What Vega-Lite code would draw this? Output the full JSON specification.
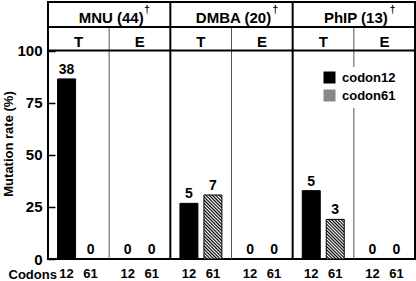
{
  "$schema": "https://vega.github.io/schema/vega-lite/v6.json",
  "width": 367,
  "height": 257,
  "autosize": {"type": "none"},
  "padding": {"left": 48, "top": 2, "right": 1, "bottom": 22},
  "config": {
    "font": "Liberation Sans",
    "view": {"stroke": "black", "strokeWidth": 2},
    "text": {"font": "Liberation Sans", "fontWeight": "bold", "color": "black"}
  },
  "datasets": {
    "bars": [
      {"key": "MNU|T", "codon": "12", "rate": 86.4, "n": 38},
      {"key": "MNU|T", "codon": "61", "rate": 0, "n": 0},
      {"key": "MNU|E", "codon": "12", "rate": 0, "n": 0},
      {"key": "MNU|E", "codon": "61", "rate": 0, "n": 0},
      {"key": "DMBA|T", "codon": "12", "rate": 26.7, "n": 5},
      {"key": "DMBA|T", "codon": "61", "rate": 30.7, "n": 7},
      {"key": "DMBA|E", "codon": "12", "rate": 0, "n": 0},
      {"key": "DMBA|E", "codon": "61", "rate": 0, "n": 0},
      {"key": "PhIP|T", "codon": "12", "rate": 32.8, "n": 5},
      {"key": "PhIP|T", "codon": "61", "rate": 19.0, "n": 3},
      {"key": "PhIP|E", "codon": "12", "rate": 0, "n": 0},
      {"key": "PhIP|E", "codon": "61", "rate": 0, "n": 0}
    ],
    "groups": [
      {"key": "MNU|T", "label": "MNU (44)"},
      {"key": "DMBA|T", "label": "DMBA (20)"},
      {"key": "PhIP|T", "label": "PhIP (13)"}
    ],
    "subs": [
      {"key": "MNU|T", "label": "T"},
      {"key": "MNU|E", "label": "E"},
      {"key": "DMBA|T", "label": "T"},
      {"key": "DMBA|E", "label": "E"},
      {"key": "PhIP|T", "label": "T"},
      {"key": "PhIP|E", "label": "E"}
    ],
    "groupStarts": [{"key": "DMBA|T"}, {"key": "PhIP|T"}],
    "subStarts": [{"key": "MNU|E"}, {"key": "DMBA|E"}, {"key": "PhIP|E"}],
    "hlines": [{"level": 100}, {"level": 111.3}]
  },
  "layer": [
    {
      "data": {"name": "bars"},
      "mark": {"type": "bar", "stroke": "black", "strokeWidth": 1},
      "encoding": {
        "x": {
          "field": "key", "type": "nominal",
          "scale": {"domain": ["MNU|T", "MNU|E", "DMBA|T", "DMBA|E", "PhIP|T", "PhIP|E"], "paddingInner": 0, "paddingOuter": 0},
          "axis": {"labels": false, "ticks": false, "domain": false, "grid": false, "title": "Codons", "titleX": -40, "titleY": 19, "titleAlign": "left", "titleAnchor": null, "titleBaseline": "alphabetic", "titleFont": "Liberation Sans", "titleFontSize": 13, "titleFontWeight": "bold", "titleColor": "black"}
        },
        "xOffset": {"field": "codon", "type": "nominal", "scale": {"domain": ["12", "61"], "paddingInner": 0.25, "paddingOuter": 0.4}},
        "y": {
          "field": "rate", "type": "quantitative",
          "scale": {"domain": [0, 123.3], "nice": false, "zero": true},
          "axis": {"values": [0, 25, 50, 75, 100], "domain": false, "grid": false, "tickSize": -7, "tickWidth": 1.5, "tickColor": "black", "labelPadding": 13, "labelFont": "Liberation Sans", "labelFontSize": 15, "labelFontWeight": "bold", "labelColor": "black", "title": "Mutation rate (%)", "titleFont": "Liberation Sans", "titleFontSize": 13, "titleFontWeight": "bold", "titleColor": "black", "titleAngle": -90, "titleX": -36, "titleY": 141.5, "titleAlign": "center", "titleBaseline": "alphabetic"}
        },
        "fill": {
          "field": "codon", "type": "nominal",
          "scale": {"domain": ["12", "61"], "range": ["#000000", "#888888"]},
          "condition": [
            {"test": "datum.key === 'DMBA|T' && datum.codon === '61'", "value": {"gradient": "linear", "x1": 0, "y1": 1, "x2": 0.334, "y2": -0.188, "stops": [
              {"offset": 0, "color": "#000"}, {"offset": 0.02, "color": "#fff"}, {"offset": 0.04, "color": "#000"}, {"offset": 0.06, "color": "#fff"}, {"offset": 0.08, "color": "#000"}, {"offset": 0.1, "color": "#fff"}, {"offset": 0.12, "color": "#000"}, {"offset": 0.14, "color": "#fff"}, {"offset": 0.16, "color": "#000"}, {"offset": 0.18, "color": "#fff"}, {"offset": 0.2, "color": "#000"}, {"offset": 0.22, "color": "#fff"}, {"offset": 0.24, "color": "#000"}, {"offset": 0.26, "color": "#fff"}, {"offset": 0.28, "color": "#000"}, {"offset": 0.3, "color": "#fff"}, {"offset": 0.32, "color": "#000"}, {"offset": 0.34, "color": "#fff"}, {"offset": 0.36, "color": "#000"}, {"offset": 0.38, "color": "#fff"}, {"offset": 0.4, "color": "#000"}, {"offset": 0.42, "color": "#fff"}, {"offset": 0.44, "color": "#000"}, {"offset": 0.46, "color": "#fff"}, {"offset": 0.48, "color": "#000"}, {"offset": 0.5, "color": "#fff"}, {"offset": 0.52, "color": "#000"}, {"offset": 0.54, "color": "#fff"}, {"offset": 0.56, "color": "#000"}, {"offset": 0.58, "color": "#fff"}, {"offset": 0.6, "color": "#000"}, {"offset": 0.62, "color": "#fff"}, {"offset": 0.64, "color": "#000"}, {"offset": 0.66, "color": "#fff"}, {"offset": 0.68, "color": "#000"}, {"offset": 0.7, "color": "#fff"}, {"offset": 0.72, "color": "#000"}, {"offset": 0.74, "color": "#fff"}, {"offset": 0.76, "color": "#000"}, {"offset": 0.78, "color": "#fff"}, {"offset": 0.8, "color": "#000"}, {"offset": 0.82, "color": "#fff"}, {"offset": 0.84, "color": "#000"}, {"offset": 0.86, "color": "#fff"}, {"offset": 0.88, "color": "#000"}, {"offset": 0.9, "color": "#fff"}, {"offset": 0.92, "color": "#000"}, {"offset": 0.94, "color": "#fff"}, {"offset": 0.96, "color": "#000"}, {"offset": 0.98, "color": "#fff"}, {"offset": 1, "color": "#000"}
            ]}},
            {"test": "datum.key === 'PhIP|T' && datum.codon === '61'", "value": {"gradient": "linear", "x1": 0, "y1": 1, "x2": 0.548, "y2": -0.205, "stops": [
              {"offset": 0, "color": "#000"}, {"offset": 0.0278, "color": "#fff"}, {"offset": 0.0556, "color": "#000"}, {"offset": 0.0833, "color": "#fff"}, {"offset": 0.1111, "color": "#000"}, {"offset": 0.1389, "color": "#fff"}, {"offset": 0.1667, "color": "#000"}, {"offset": 0.1944, "color": "#fff"}, {"offset": 0.2222, "color": "#000"}, {"offset": 0.25, "color": "#fff"}, {"offset": 0.2778, "color": "#000"}, {"offset": 0.3056, "color": "#fff"}, {"offset": 0.3333, "color": "#000"}, {"offset": 0.3611, "color": "#fff"}, {"offset": 0.3889, "color": "#000"}, {"offset": 0.4167, "color": "#fff"}, {"offset": 0.4444, "color": "#000"}, {"offset": 0.4722, "color": "#fff"}, {"offset": 0.5, "color": "#000"}, {"offset": 0.5278, "color": "#fff"}, {"offset": 0.5556, "color": "#000"}, {"offset": 0.5833, "color": "#fff"}, {"offset": 0.6111, "color": "#000"}, {"offset": 0.6389, "color": "#fff"}, {"offset": 0.6667, "color": "#000"}, {"offset": 0.6944, "color": "#fff"}, {"offset": 0.7222, "color": "#000"}, {"offset": 0.75, "color": "#fff"}, {"offset": 0.7778, "color": "#000"}, {"offset": 0.8056, "color": "#fff"}, {"offset": 0.8333, "color": "#000"}, {"offset": 0.8611, "color": "#fff"}, {"offset": 0.8889, "color": "#000"}, {"offset": 0.9167, "color": "#fff"}, {"offset": 0.9444, "color": "#000"}, {"offset": 0.9722, "color": "#fff"}, {"offset": 1, "color": "#000"}
            ]}}
          ],
          "legend": {
            "orient": "none", "legendX": 271, "legendY": 65, "title": null,
            "fillColor": "white", "padding": 4,
            "symbolType": "square", "symbolSize": 144, "symbolStrokeColor": "black", "symbolStrokeWidth": 1,
            "labelExpr": "'codon' + datum.label",
            "labelFont": "Liberation Sans", "labelFontSize": 13, "labelFontWeight": "bold", "labelColor": "black",
            "labelOffset": 6, "rowPadding": 1,
            "encode": {
              "labels": {"update": {"fill": {"value": "#000"}, "opacity": {"value": 1}}},
              "symbols": {"update": {"opacity": {"value": 1}, "fill": [
              {"test": "datum.value === '61'", "value": {"gradient": "linear", "x1": 0, "y1": 1, "x2": 1, "y2": 0, "stops": [
                {"offset": 0, "color": "#000"}, {"offset": 0.0625, "color": "#fff"}, {"offset": 0.125, "color": "#000"}, {"offset": 0.1875, "color": "#fff"}, {"offset": 0.25, "color": "#000"}, {"offset": 0.3125, "color": "#fff"}, {"offset": 0.375, "color": "#000"}, {"offset": 0.4375, "color": "#fff"}, {"offset": 0.5, "color": "#000"}, {"offset": 0.5625, "color": "#fff"}, {"offset": 0.625, "color": "#000"}, {"offset": 0.6875, "color": "#fff"}, {"offset": 0.75, "color": "#000"}, {"offset": 0.8125, "color": "#fff"}, {"offset": 0.875, "color": "#000"}, {"offset": 0.9375, "color": "#fff"}, {"offset": 1, "color": "#000"}
              ]}},
              {"value": "#000"}
            ]}}}
          }
        }
      }
    },
    {
      "data": {"name": "bars"},
      "mark": {"type": "text", "fontSize": 14, "baseline": "alphabetic", "dy": -5},
      "encoding": {
        "x": {"field": "key", "type": "nominal"},
        "xOffset": {"field": "codon", "type": "nominal"},
        "y": {"field": "rate", "type": "quantitative"},
        "text": {"field": "n"}
      }
    },
    {
      "data": {"name": "bars"},
      "mark": {"type": "text", "fontSize": 13, "baseline": "alphabetic", "dy": 19},
      "encoding": {
        "x": {"field": "key", "type": "nominal"},
        "xOffset": {"field": "codon", "type": "nominal"},
        "y": {"datum": 0},
        "text": {"field": "codon"}
      }
    },
    {
      "data": {"name": "subStarts"},
      "mark": {"type": "rule", "stroke": "#555555", "strokeWidth": 1},
      "encoding": {
        "x": {"field": "key", "type": "nominal", "bandPosition": 0},
        "y": {"datum": 0},
        "y2": {"datum": 111.3}
      }
    },
    {
      "data": {"name": "groupStarts"},
      "mark": {"type": "rule", "stroke": "black", "strokeWidth": 2},
      "encoding": {
        "x": {"field": "key", "type": "nominal", "bandPosition": 0}
      }
    },
    {
      "data": {"name": "hlines"},
      "mark": {"type": "rule", "stroke": "black", "strokeWidth": 2},
      "encoding": {"y": {"field": "level", "type": "quantitative"}}
    },
    {
      "data": {"name": "groups"},
      "mark": {"type": "text", "fontSize": 15, "baseline": "alphabetic", "align": "center", "dx": 2},
      "encoding": {
        "x": {"field": "key", "type": "nominal", "bandPosition": 1},
        "y": {"datum": 113.1},
        "text": {"field": "label"}
      }
    },
    {
      "data": {"name": "groups"},
      "mark": {"type": "text", "fontSize": 10, "baseline": "alphabetic", "align": "left", "dy": -10,
        "dx": {"expr": "datum.label === 'DMBA (20)' ? 41 : datum.label === 'PhIP (13)' ? 36 : 35"}},
      "encoding": {
        "x": {"field": "key", "type": "nominal", "bandPosition": 1},
        "y": {"datum": 113.1},
        "text": {"value": "†"}
      }
    },
    {
      "data": {"name": "subs"},
      "mark": {"type": "text", "fontSize": 15, "baseline": "alphabetic", "align": "center"},
      "encoding": {
        "x": {"field": "key", "type": "nominal"},
        "y": {"datum": 101.9},
        "text": {"field": "label"}
      }
    }
  ]
}
